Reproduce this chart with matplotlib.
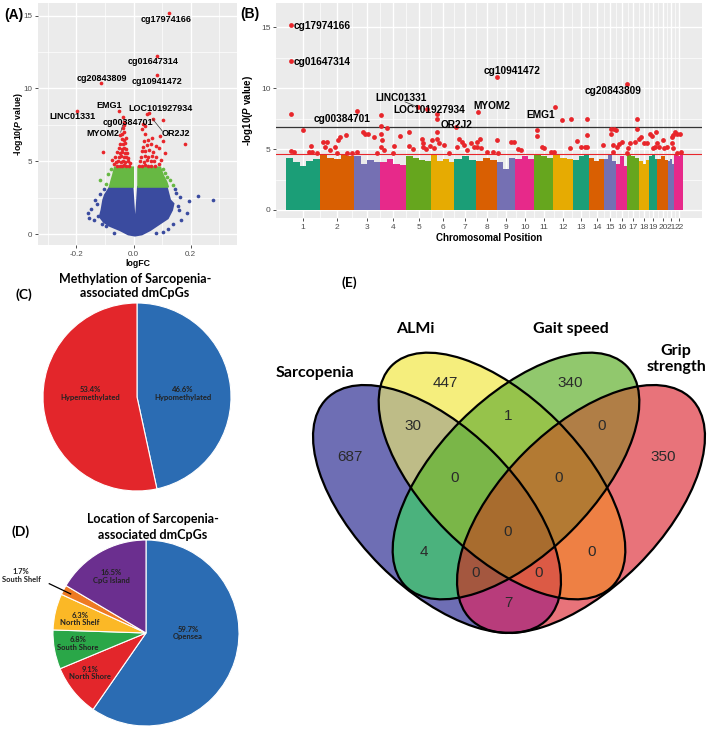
import numpy as np
import matplotlib.pyplot as plt
from matplotlib.patches import Ellipse
from matplotlib.colors import to_rgba

plt.rcParams['font.family'] = 'Liberation Sans'
plt.rcParams['axes.unicode_minus'] = False
plt.rcParams['mathtext.fontset'] = 'custom'
plt.rcParams['mathtext.it'] = 'Liberation Sans:italic:bold'
plt.rcParams['mathtext.rm'] = 'Liberation Sans:bold'

# ---------------- (A) volcano plot ----------------
# outline of the dense blue cloud (logFC, -log10 P)
blue_cloud_fc = [0.006, -0.004, -0.082, -0.100, -0.106, -0.112, -0.118, -0.104, -0.085, -0.047,
                 -0.018, 0.005, 0.029, 0.058, 0.093, 0.120, 0.135, 0.140, 0.128, 0.116, 0.016]
blue_cloud_p = [0.30, 3.25, 3.25, 2.70, 2.35, 1.67, 1.21, 0.85, 0.60, 0.29,
                0.00, -0.08, 0.00, 0.29, 0.75, 1.10, 1.67, 2.10, 2.35, 3.25, 3.25]
blue_fc = [-0.159, -0.155, -0.135, -0.148, -0.128, -0.140, -0.118, -0.105, -0.095, -0.125, -0.112,
           0.227, 0.278, 0.195, 0.187, 0.168, 0.163, 0.150, 0.145, 0.155, 0.160, 0.140, 0.120, 0.105,
           -0.070, 0.080]
blue_p = [1.44, 1.10, 2.35, 1.75, 2.05, 0.95, 2.75, 3.10, 0.55, 1.25, 0.70,
          2.63, 2.35, 2.30, 1.44, 1.00, 2.58, 2.85, 3.10, 1.95, 1.70, 0.70, 0.35, 0.15,
          0.10, 0.08]

green_left_fc = [-0.001, -0.084, -0.078, -0.072, -0.066, -0.001]
green_left_p = [3.25, 3.25, 3.70, 4.10, 4.60, 4.60]
green_right_fc = [0.016, 0.122, 0.116, 0.104, 0.094, 0.016]
green_right_p = [3.25, 3.25, 3.60, 4.05, 4.60, 4.60]
green_fc = [-0.118, -0.095, -0.088, -0.080, 0.087, 0.110, 0.140, 0.128, 0.102, 0.118]
green_p = [3.72, 3.45, 4.15, 4.45, 4.30, 4.18, 3.38, 3.70, 4.45, 3.95]

red_fc = [-0.058, -0.049, -0.041, -0.033, -0.025, -0.017,
          -0.063, -0.054, -0.045, -0.037, -0.029, -0.021, -0.013,
          -0.066, -0.051, -0.043, -0.035, -0.027, -0.019,
          -0.057, -0.048, -0.040, -0.031, -0.023,
          -0.050, -0.041, -0.033, -0.025,
          -0.046, -0.037, -0.029,
          -0.042, -0.034, -0.028,
          -0.040, -0.032, -0.037, -0.034, -0.075, -0.070,
          0.020, 0.030, 0.041, 0.051, 0.062, 0.074, 0.088,
          0.024, 0.036, 0.048, 0.060, 0.072, 0.098,
          0.028, 0.040, 0.052, 0.066, 0.080,
          0.030, 0.042, 0.056, 0.070, 0.090,
          0.034, 0.046, 0.060, 0.078,
          0.036, 0.050, 0.064,
          0.040, 0.030, 0.042, 0.105, 0.112,
          0.126, 0.084, 0.084, -0.115, -0.199, -0.050, 0.055, 0.048, -0.036, -0.033,
          0.070, 0.102, 0.032, -0.048, 0.093, 0.181, -0.106]
red_p = [4.68, 4.72, 4.66, 4.74, 4.69, 4.71,
         4.98, 5.03, 4.95, 5.06, 4.99, 5.02, 4.90,
         5.31, 5.27, 5.36, 5.29, 5.33, 5.26,
         5.62, 5.58, 5.66, 5.60, 5.55,
         5.92, 5.88, 5.95, 5.86,
         6.21, 6.18, 6.25,
         6.52, 6.48, 6.62,
         6.90, 7.02, 7.30, 7.52, 5.10, 4.82,
         4.70, 4.66, 4.73, 4.68, 4.72, 4.67, 4.80,
         5.02, 4.97, 5.10, 5.01, 5.05, 5.12,
         5.32, 5.40, 5.28, 5.38, 5.30,
         5.68, 5.72, 5.80, 5.62, 5.90,
         6.02, 6.10, 6.18, 6.08,
         6.40, 6.50, 6.60,
         6.90, 7.20, 7.40, 6.40, 5.60,
         15.15, 12.23, 10.93, 10.36, 8.48, 8.45, 8.30, 8.22, 8.02, 7.72,
         7.89, 7.87, 7.57, 6.81, 6.74, 6.17, 5.67]

volcano_names = ['cg17974166', 'cg01647314', 'cg10941472', 'cg20843809', 'LINC01331',
                 'EMG1', 'LOC101927934', 'cg00384701', 'MYOM2', 'OR2J2']
volcano_lab_x = [0.113, 0.069, 0.0835, -0.112, -0.213, -0.086, 0.095, -0.018, -0.108, 0.149]
volcano_lab_y = [14.75, 11.84, 10.51, 10.65, 8.11, 8.80, 8.64, 7.66, 6.93, 6.93]

# ---------------- (B) Manhattan plot ----------------
chromosomes = [str(i) for i in range(1, 23)]
chrom_width = [34, 34.3, 26, 26, 25, 23, 22, 21, 18, 19, 19, 20, 16, 15, 12, 11, 12, 10, 8, 11, 6, 9]
chrom_tops = [[4.3, 3.9, 3.6, 4.0, 4.2], [4.6, 4.3, 4.2, 4.5, 4.4], [4.4, 3.8, 4.1, 3.9],
              [3.9, 4.2, 3.8, 3.7], [4.4, 4.3, 4.1, 4.0], [4.5, 4.0, 4.2, 3.9],
              [4.2, 4.4, 4.1], [4.0, 4.3, 4.1], [3.9, 3.4, 4.3], [4.2, 4.4, 4.2],
              [4.5, 4.4, 4.3], [4.5, 4.3, 4.2], [4.1, 4.4, 4.5], [4.3, 4.0, 4.2], [4.2, 4.5, 4.0],
              [3.8, 4.4, 3.6], [4.6, 4.4, 4.3], [4.0, 3.8, 4.1], [4.4, 4.5, 4.2], [4.2, 4.4, 4.1],
              [4.0, 4.2, 3.8], [4.6, 4.4, 4.5]]
sig_pos = [4.7, 4.7, 4.7, 4.7, 8.0, 16.7, 24.7, 23.0, 26.3, 30.7, 37.3, 41.3, 39.0, 44.0, 49.0,
           52.3, 54.0, 60.0, 50.7, 61.3, 65.7, 70.7, 71.3, 76.7, 79.0, 82.3, 88.3, 91.3, 94.7,
           94.7, 94.7, 95.7, 94.7, 98.0, 100.7, 108.0, 114.0, 106.7, 122.7, 123.0, 127.3, 132.3,
           135.7, 136.7, 137.3, 140.0, 144.0, 146.0, 148.0, 141.3, 151.3, 151.3, 151.3, 151.3,
           152.7, 158.0, 162.7, 169.7, 171.3, 173.3, 175.7, 178.0, 180.7, 184.7, 188.0, 191.3,
           191.3, 194.0, 192.3, 194.7, 200.7, 206.7, 211.3, 211.3, 212.3, 224.7, 228.0, 232.3,
           234.7, 250.7, 250.7, 255.7, 258.0, 264.7, 268.0, 269.0, 275.7, 284.7, 284.0, 290.7,
           294.7, 299.0, 301.3, 301.3, 301.3, 316.7, 324.7, 324.7, 328.0, 330.0, 326.7, 327.3,
           330.7, 333.0, 335.7, 340.7, 341.3, 342.3, 344.0, 350.7, 350.7, 349.0, 353.0, 354.7,
           358.0, 361.3, 364.0, 365.7, 367.3, 370.0, 369.0, 371.3, 373.3, 376.7, 378.0, 381.3,
           385.7, 387.3, 389.0, 391.3, 394.0, 385.7, 387.3, 391.3, 394.7]
sig_logp = [15.16, 12.24, 7.87, 4.86, 4.78, 6.56, 5.27, 4.75, 4.75, 4.70, 5.60, 5.60, 5.19, 4.92,
            5.19, 5.74, 6.01, 6.17, 4.70, 4.70, 4.70, 8.14, 4.78, 6.37, 6.20, 6.28, 5.96, 4.64,
            7.79, 6.20, 6.89, 5.74, 5.19, 4.92, 6.75, 5.27, 6.07, 4.70, 6.42, 5.25, 4.97, 8.47,
            5.87, 5.52, 5.19, 4.97, 5.25, 5.74, 5.05, 8.28, 7.92, 7.46, 6.37, 5.87, 5.46, 5.33,
            4.70, 6.83, 5.19, 5.79, 5.60, 5.33, 4.92, 5.46, 5.19, 5.19, 5.60, 5.87, 8.06, 5.05,
            4.78, 4.78, 10.93, 5.74, 4.64, 5.60, 5.60, 4.97, 4.92, 6.56, 6.07, 5.19, 5.05, 4.78,
            4.78, 8.47, 7.38, 7.51, 5.05, 5.66, 5.19, 5.19, 7.51, 6.15, 5.19, 5.33, 6.69, 6.28,
            6.61, 6.56, 5.33, 4.78, 5.19, 5.41, 5.60, 4.70, 10.38, 5.05, 5.46, 7.51, 6.69, 5.60,
            5.79, 6.01, 5.46, 5.46, 6.28, 6.07, 5.05, 6.42, 5.19, 5.46, 5.19, 5.74, 5.05, 5.19,
            6.01, 6.15, 6.42, 6.28, 6.28, 5.46, 5.05, 4.64, 4.78]
manh_names = ['cg17974166', 'cg01647314', 'cg10941472', 'cg20843809', 'LINC01331',
              'LOC101927934', 'cg00384701', 'MYOM2', 'OR2J2', 'EMG1']
manh_lab_x = [8, 8, 225.7, 327.3, 115, 143, 56.3, 206.3, 170.7, 255]
manh_lab_y = [15.08, 12.16, 11.39, 9.78, 9.21, 8.20, 7.51, 8.52, 7.02, 7.79]
suggestive_line = 4.62
bonferroni_line = 6.83

# ---------------- (C) / (D) pies ----------------
meth_labels = ['Hypomethylated', 'Hypermethylated']
meth_pct = [46.6, 53.4]
loc_labels = ['Opensea', 'North Shore', 'South Shore', 'North Shelf', 'South Shelf', 'CpG Island']
loc_pct = [59.7, 9.1, 6.8, 6.3, 1.7, 16.5]

# ---------------- (E) Venn ----------------
venn_sets = ['Sarcopenia', 'ALMi', 'Gait speed', 'Grip\nstrength']
venn_counts = [687, 447, 340, 350, 30, 1, 0, 0, 0, 0, 4, 0, 0, 0, 7]

# =====================================================
W, H = 709, 729
fig = plt.figure(figsize=(W / 100, H / 100), dpi=100)


def px_rect(l, t, r, b):
    return [l / W, 1 - b / H, (r - l) / W, (b - t) / H]


def gg_style(ax, lab=6.5):
    ax.set_facecolor('#EBEBEB')
    for s in ax.spines.values():
        s.set_visible(False)
    ax.grid(which='major', color='white', lw=1.0)
    ax.grid(which='minor', color='white', lw=0.5)
    ax.set_axisbelow(True)
    ax.tick_params(which='major', length=2.5, width=0.6, color='#333333',
                   labelsize=lab, labelcolor='#4D4D4D', pad=1.5)
    ax.tick_params(which='minor', length=0)


over = fig.add_axes([0, 0, 1, 1])
over.set_axis_off()

# ---- A ----
axA = fig.add_axes(px_rect(38, 3, 237, 245))
gg_style(axA, 5.8)
vblue, vgreen, vred = '#3A4B9F', '#67B843', '#E8262B'
axA.fill(blue_cloud_fc, blue_cloud_p, color=vblue, ec=vblue, lw=1.5, zorder=2)
axA.scatter(blue_fc, blue_p, s=7, color=vblue, lw=0, zorder=2)
axA.fill(green_left_fc, green_left_p, color=vgreen, ec=vgreen, lw=1.2, zorder=2)
axA.fill(green_right_fc, green_right_p, color=vgreen, ec=vgreen, lw=1.2, zorder=2)
axA.scatter(green_fc, green_p, s=7, color=vgreen, lw=0, zorder=2)
axA.scatter(red_fc, red_p, s=7, color=vred, lw=0, zorder=3)
for name, x, y in zip(volcano_names, volcano_lab_x, volcano_lab_y):
    axA.text(x, y, name, fontsize=6.5, fontweight='bold', ha='center', va='center', zorder=4)
axA.plot([0.067, 0.101], [7.91, 7.08], color='#333333', lw=0.5, zorder=4)
axA.plot([-0.038, -0.045], [7.5, 7.0], color='#333333', lw=0.5, zorder=4)
axA.set_xlim(-0.335, 0.363)
axA.set_ylim(-0.73, 15.86)
axA.set_xticks([-0.2, 0.0, 0.2])
axA.set_xticks([-0.3, -0.1, 0.1, 0.3], minor=True)
axA.set_yticks([0, 5, 10, 15])
axA.set_yticks([2.5, 7.5, 12.5], minor=True)
axA.set_xlabel('logFC', fontsize=6.3, fontweight='bold')
axA.set_ylabel(r'-log10($\mathit{P}$ value)', fontsize=6.3, fontweight='bold')
axA.xaxis.set_label_coords(0.5, -0.058)
axA.yaxis.set_label_coords(-0.065, 0.5)

# ---- B ----
axB = fig.add_axes(px_rect(276, 3, 702, 218))
gg_style(axB, 6.0)
dark2 = ['#1B9E77', '#D95F02', '#7570B3', '#E7298A', '#66A61E', '#E6AB02']
starts = np.concatenate([[0], np.cumsum(chrom_width)[:-1]])
centres = starts + np.array(chrom_width) / 2
for i, (s, w, tops) in enumerate(zip(starts, chrom_width, chrom_tops)):
    n = len(tops)
    axB.bar(s + (np.arange(n) + 0.5) * w / n, tops, width=w / n,
            color=dark2[i % 6], linewidth=0, zorder=2)
axB.axhline(suggestive_line, color='#E8262B', lw=0.8, zorder=2.5)
axB.axhline(bonferroni_line, color='#333333', lw=0.9, zorder=2.5)
axB.scatter(sig_pos, sig_logp, s=12, color=vred, lw=0, zorder=3)
for name, x, y in zip(manh_names, manh_lab_x, manh_lab_y):
    ha = 'left' if name in ('cg17974166', 'cg01647314') else 'center'
    axB.text(x, y, name, fontsize=7.3, fontweight='bold', ha=ha, va='center', zorder=4)
axB.plot([119, 130], [8.88, 8.52], color='#333333', lw=0.5, zorder=4)
axB.set_xlim(-10, 416)
axB.set_ylim(-0.66, 17.0)
axB.set_xticks(centres)
axB.set_xticklabels(chromosomes)
axB.set_xticks((centres[:-1] + centres[1:]) / 2, minor=True)
axB.set_yticks([0, 5, 10, 15])
axB.set_yticks([2.5, 7.5, 12.5], minor=True)
axB.set_xlabel('Chromosomal Position', fontsize=7, fontweight='bold')
axB.set_ylabel(r'-log10($\mathit{P}$ value)', fontsize=7, fontweight='bold')
axB.xaxis.set_label_coords(0.5, -0.07)
axB.yaxis.set_label_coords(-0.05, 0.5)

# ---- C ----
pie_font = dict(family='Lato', fontweight='bold', fontsize=5.5, color='#222222',
                ha='center', va='center', linespacing=1.1)
axC = fig.add_axes(px_rect(137 - 117.5, 397 - 117.5, 137 + 117.5, 397 + 117.5))
axC.pie(meth_pct, colors=['#2B6CB3', '#E3262B'], startangle=90, counterclock=False,
        wedgeprops=dict(edgecolor='white', linewidth=0.8))
axC.set_xlim(-1.25, 1.25)
axC.set_ylim(-1.25, 1.25)
meth_pos = [(0.49, 0.04), (-0.50, 0.04)]
for lab, pct, (x, y) in zip(meth_labels, meth_pct, meth_pos):
    axC.text(x, y, f'{pct}%\n{lab}', **pie_font)

# ---- D ----
axD = fig.add_axes(px_rect(146 - 116.25, 633 - 116.25, 146 + 116.25, 633 + 116.25))
axD.pie(loc_pct, colors=['#2B6CB3', '#E3262B', '#2AA748', '#FBB826', '#EE7A22', '#6B2F8F'],
        startangle=90, counterclock=False, wedgeprops=dict(edgecolor='white', linewidth=0.8))
axD.set_xlim(-1.25, 1.25)
axD.set_ylim(-1.25, 1.25)
loc_pos = [(0.45, 0.0), (-0.60, -0.43), (-0.73, -0.11), (-0.71, 0.15), (-1.34, 0.62), (-0.37, 0.61)]
for lab, pct, (x, y) in zip(loc_labels, loc_pct, loc_pos):
    axD.text(x, y, f'{pct}%\n{lab}', **pie_font)
axD.plot([-1.04, -0.81], [0.53, 0.42], color='black', lw=0.9, clip_on=False)

# ---- E (Venn, drawn in figure pixels) ----
# centre x, centre y, angle, semi-major, semi-minor
ellipses = [(437, 509, 45, 156, 80), (502, 476, 45, 156, 78),
            (516, 476, -45, 156, 78), (581, 509, -45, 156, 80)]
gx, gy = np.meshgrid(np.arange(300, 709) + 0.5, np.arange(270, 700) + 0.5)
code = np.zeros(gx.shape, int)
for k, (cx, cy, ang, sa, sb) in enumerate(ellipses):
    t = np.deg2rad(ang)
    u = (gx - cx) * np.cos(t) + (gy - cy) * np.sin(t)
    v = -(gx - cx) * np.sin(t) + (gy - cy) * np.cos(t)
    code += ((u / sa) ** 2 + (v / sb) ** 2 <= 1).astype(int) << k
region_colors = {1: '#6E6EB4', 2: '#F5EE7D', 4: '#91C86D', 8: '#E8737A',
                 3: '#BEBC87', 5: '#4BB27D', 9: '#B83C7B', 6: '#96C34B', 10: '#EE8044',
                 12: '#B07E46', 7: '#7AB648', 11: '#DC5A45', 13: '#A4573F', 14: '#B37A33',
                 15: '#A86C2E'}
rgba = np.zeros(gx.shape + (4,))
for c, col in region_colors.items():
    rgba[code == c] = to_rgba(col)
over.imshow(rgba, extent=(300, 709, 700, 270), interpolation='nearest', aspect='auto')
for cx, cy, ang, sa, sb in ellipses:
    over.add_patch(Ellipse((cx, cy), 2 * sa, 2 * sb, angle=ang,
                           fill=False, ec='black', lw=1.6))
venn_pos = [(350, 457), (445, 383), (570, 383), (663, 457), (413, 426), (508, 416), (602, 426),
            (455, 478), (559, 478), (508, 532), (424, 552), (592, 552), (476, 573), (539, 573),
            (508, 603)]
for n, (x, y) in zip(venn_counts, venn_pos):
    over.text(x, y, str(n), fontsize=11, color='#2A2A2A', ha='center', va='center')
venn_lab_pos = [(315, 373), (415, 329), (571, 329), (676, 359)]
for lab, (x, y) in zip(venn_sets, venn_lab_pos):
    over.text(x, y, lab, family='Lato', fontweight='bold', fontsize=11.5,
              ha='center', va='center', linespacing=1.1)

# ---- titles and panel letters ----
over.text(135, 286, 'Methylation of Sarcopenia-\nassociated dmCpGs', family='Lato',
          fontweight='bold', fontsize=9, ha='center', va='center', linespacing=1.25)
over.text(153, 527, 'Location of Sarcopenia-\nassociated dmCpGs', family='Lato',
          fontweight='bold', fontsize=9, ha='center', va='center', linespacing=1.35)
for lab, x, y, fam in [('(A)', 4, 15, 'Liberation Sans'), ('(B)', 240, 14, 'Liberation Sans'),
                       ('(C)', 16, 295, 'Lato'), ('(D)', 11, 532, 'Lato'), ('(E)', 342, 283, 'Lato')]:
    over.text(x, y, lab, family=fam, fontweight='bold', fontsize=10, ha='left', va='center')

over.set_xlim(0, W)
over.set_ylim(H, 0)

fig.savefig('out.png', dpi=100)
